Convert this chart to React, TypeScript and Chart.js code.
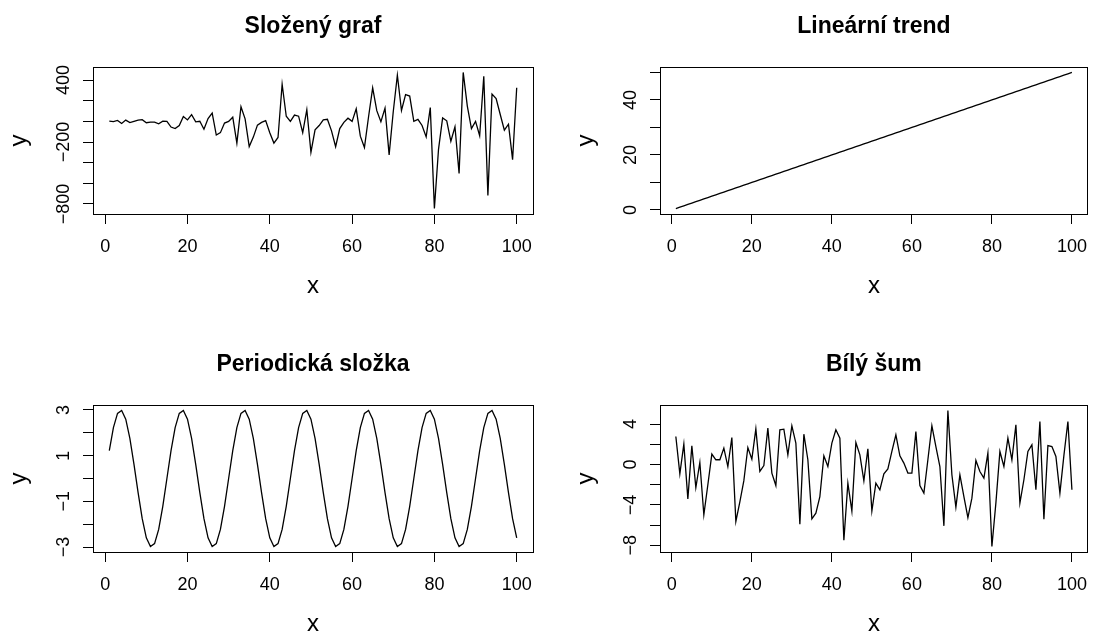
import React, { useEffect, useRef } from 'react';
import { Chart, registerables } from 'chart.js';

Chart.register(...registerables);

const FONT = '"Liberation Sans", Arial, Helvetica, sans-serif';

const xIndex = [
  1, 2, 3, 4, 5, 6, 7, 8, 9, 10, 11, 12, 13, 14, 15, 16, 17, 18, 19, 20,
  21, 22, 23, 24, 25, 26, 27, 28, 29, 30, 31, 32, 33, 34, 35, 36, 37, 38, 39, 40,
  41, 42, 43, 44, 45, 46, 47, 48, 49, 50, 51, 52, 53, 54, 55, 56, 57, 58, 59, 60,
  61, 62, 63, 64, 65, 66, 67, 68, 69, 70, 71, 72, 73, 74, 75, 76, 77, 78, 79, 80,
  81, 82, 83, 84, 85, 86, 87, 88, 89, 90, 91, 92, 93, 94, 95, 96, 97, 98, 99, 100,
];

const compositeValues = [
  1.7, -2.1, 8.6, -20.3, 12.0, -12.0, 0.4, 12.4, 15.8, -13.4,
  -7.7, -8.0, -23.5, 1.7, 0, -55.1, -70.1, -41.0, 47.6, 13.8,
  65.2, -4.7, 0.7, -76.0, 27.6, 80.6, -132.4, -109.3, -17.0, 0,
  40.1, -210.5, 141.1, 23.8, -244.8, -152.4, -36.4, -10.1, 6.9, -110.2,
  -210.2, -156.2, 359.1, 49.4, 0, 61.2, 50.3, -110.1, 113.2, -299.0,
  -82.6, -40.3, 15.1, 20.4, -92.2, -245.3, -69.9, -9.1, 30.6, 0,
  121.7, -143.8, -254.1, 44.8, 323.6, 103.4, -4.2, 128.0, -324.9, 92.8,
  446.4, 104.7, 258.0, 245.0, 0, 18.5, -40.0, -150.1, 133.0, -844.5,
  -270.9, 32.8, 5.2, -192.9, -51.9, -503.6, 473.6, 148.2, -70.0, 0,
  -138.8, 437.0, -717.0, 263.3, 219.8, 66.7, -85.1, -27.3, -371.1, 325.0,
];

const trendValues = [
  0.5, 1, 1.5, 2, 2.5, 3, 3.5, 4, 4.5, 5, 5.5, 6, 6.5, 7, 7.5, 8, 8.5, 9, 9.5, 10,
  10.5, 11, 11.5, 12, 12.5, 13, 13.5, 14, 14.5, 15, 15.5, 16, 16.5, 17, 17.5, 18, 18.5, 19, 19.5, 20,
  20.5, 21, 21.5, 22, 22.5, 23, 23.5, 24, 24.5, 25, 25.5, 26, 26.5, 27, 27.5, 28, 28.5, 29, 29.5, 30,
  30.5, 31, 31.5, 32, 32.5, 33, 33.5, 34, 34.5, 35, 35.5, 36, 36.5, 37, 37.5, 38, 38.5, 39, 39.5, 40,
  40.5, 41, 41.5, 42, 42.5, 43, 43.5, 44, 44.5, 45, 45.5, 46, 46.5, 47, 47.5, 48, 48.5, 49, 49.5, 50,
];

const periodicValues = [
  1.22, 2.23, 2.85, 2.98, 2.60, 1.76, 0.62, -0.62, -1.76, -2.60, -2.98, -2.85, -2.23, -1.22, 0,
  1.22, 2.23, 2.85, 2.98, 2.60, 1.76, 0.62, -0.62, -1.76, -2.60, -2.98, -2.85, -2.23, -1.22, 0,
  1.22, 2.23, 2.85, 2.98, 2.60, 1.76, 0.62, -0.62, -1.76, -2.60, -2.98, -2.85, -2.23, -1.22, 0,
  1.22, 2.23, 2.85, 2.98, 2.60, 1.76, 0.62, -0.62, -1.76, -2.60, -2.98, -2.85, -2.23, -1.22, 0,
  1.22, 2.23, 2.85, 2.98, 2.60, 1.76, 0.62, -0.62, -1.76, -2.60, -2.98, -2.85, -2.23, -1.22, 0,
  1.22, 2.23, 2.85, 2.98, 2.60, 1.76, 0.62, -0.62, -1.76, -2.60, -2.98, -2.85, -2.23, -1.22, 0,
  1.22, 2.23, 2.85, 2.98, 2.60, 1.76, 0.62, -0.62, -1.76, -2.60,
];

const noiseValues = [
  2.77, -0.92, 2.02, -3.40, 1.85, -2.28, 0.20, -4.98, -2.0, 1.03,
  0.47, 0.47, 1.62, -0.20, 2.67, -5.64, -3.7, -1.6, 1.68, 0.53,
  3.53, -0.69, -0.10, 3.60, -0.85, -2.08, 3.44, 3.50, 0.96, 3.83,
  2.12, -5.90, 3.00, 0.47, -5.38, -4.81, -3.17, 0.86, -0.20, 2.12,
  3.44, 2.61, -7.49, -1.84, -4.60, 2.18, 0.96, -1.61, 1.55, -4.60,
  -1.84, -2.50, -0.92, -0.43, 1.29, 2.94, 0.86, 0.14, -0.85, -0.85,
  3.27, -2.08, -2.83, 0.47, 3.83, 1.78, -0.20, -6.07, 5.35, -1.02,
  -4.22, -1.02, -3.17, -5.25, -3.33, 0.40, -0.69, -1.35, 1.13, -8.12,
  -3.8, 1.29, -0.20, 2.61, 0.47, 3.93, -3.82, -1.51, 1.29, 1.95,
  -2.50, 4.26, -5.41, 1.88, 1.78, 0.79, -2.83, 0.9, 4.26, -2.50,
];

const xTicks = [0, 20, 40, 60, 80, 100];
const compositeTicks = [-800, -600, -400, -200, 0, 200, 400];
const compositeTickLabels = [-800, -200, 400];
const trendTicks = [0, 10, 20, 30, 40, 50];
const trendTickLabels = [0, 20, 40];
const periodicTicks = [-3, -2, -1, 0, 1, 2, 3];
const periodicTickLabels = [-3, -1, 1, 3];
const noiseTicks = [-8, -6, -4, -2, 0, 2, 4];
const noiseTickLabels = [-8, -4, 0, 4];

const titles = ['Složený graf', 'Lineární trend', 'Periodická složka', 'Bílý šum'];
const xAxisTitle = 'x';
const yAxisTitle = 'y';

type PanelSpec = {
  canvas: { left: number; top: number; width: number; height: number };
  box: { l: number; t: number; r: number; b: number };
  yMin: number;
  yMax: number;
  values: number[];
  yTicks: number[];
  yTickLabels: number[];
  title: string;
};

const panels: PanelSpec[] = [
  {
    canvas: { left: 0, top: 0, width: 549, height: 338 },
    box: { l: 93, t: 67, r: 533, b: 214 },
    yMin: -897.2, yMax: 526.3,
    values: compositeValues, yTicks: compositeTicks, yTickLabels: compositeTickLabels, title: titles[0],
  },
  {
    canvas: { left: 549, top: 0, width: 550, height: 338 },
    box: { l: 660, t: 67, r: 1097, b: 214 },
    yMin: -1.48, yMax: 51.98,
    values: trendValues, yTicks: trendTicks, yTickLabels: trendTickLabels, title: titles[1],
  },
  {
    canvas: { left: 0, top: 338, width: 549, height: 294 },
    box: { l: 93, t: 405, r: 533, b: 552 },
    yMin: -3.218, yMax: 3.218,
    values: periodicValues, yTicks: periodicTicks, yTickLabels: periodicTickLabels, title: titles[2],
  },
  {
    canvas: { left: 549, top: 338, width: 550, height: 294 },
    box: { l: 660, t: 405, r: 1097, b: 552 },
    yMin: -8.659, yMax: 5.889,
    values: noiseValues, yTicks: noiseTicks, yTickLabels: noiseTickLabels, title: titles[3],
  },
];

const fmt = (v: number) => (v < 0 ? '\u2212' + String(Math.abs(v)) : String(v));
const align = (p: number) => Math.round(p - 0.5) + 0.5;

function Panel({ spec }: { spec: PanelSpec }) {
  const ref = useRef<HTMLCanvasElement | null>(null);
  useEffect(() => {
    if (!ref.current) return;
    const c = spec.canvas;
    const box = spec.box;
    const decor = {
      id: 'rDecor',
      afterDraw(chart: any) {
        const ctx = chart.ctx as CanvasRenderingContext2D;
        const { left, top, right, bottom } = chart.chartArea;
        ctx.save();
        ctx.strokeStyle = '#000';
        ctx.lineWidth = 1;
        const l = align(left), t = align(top), r = align(right), b = align(bottom);
        ctx.strokeRect(l, t, r - l, b - t);
        ctx.fillStyle = '#000';
        // title
        ctx.font = `bold 23px ${FONT}`;
        ctx.textAlign = 'center';
        ctx.textBaseline = 'alphabetic';
        ctx.fillText(spec.title, (left + right) / 2, top - 33.7);
        // x axis title
        ctx.font = `24px ${FONT}`;
        ctx.fillText(xAxisTitle, (left + right) / 2, bottom + 78.5);
        // y axis title
        ctx.save();
        ctx.translate(left - 67, (top + bottom) / 2);
        ctx.rotate(-Math.PI / 2);
        ctx.fillText(yAxisTitle, 0, 0);
        ctx.restore();
        // y tick labels (rotated, as in R)
        ctx.font = `18px ${FONT}`;
        const ys = chart.scales.y;
        for (const v of spec.yTickLabels) {
          const py = ys.getPixelForValue(v);
          ctx.save();
          ctx.translate(left - 24.5, py);
          ctx.rotate(-Math.PI / 2);
          ctx.fillText(fmt(v), 0, 0);
          ctx.restore();
        }
        ctx.restore();
      },
    };
    const chart = new Chart(ref.current, {
      type: 'line',
      data: {
        datasets: [
          {
            data: xIndex.map((x, i) => ({ x, y: spec.values[i] })),
            borderColor: '#000',
            borderWidth: 1.3,
            pointRadius: 0,
            fill: false,
            tension: 0,
          },
        ],
      },
      options: {
        animation: false,
        responsive: false,
        maintainAspectRatio: false,
        events: [],
        layout: {
          padding: {
            left: 0,
            top: box.t - c.top,
            right: c.left + c.width - box.r,
            bottom: 0,
          },
        },
        plugins: {
          legend: { display: false },
          title: { display: false },
          tooltip: { enabled: false },
        },
        scales: {
          x: {
            type: 'linear',
            min: -2.96,
            max: 103.96,
            afterFit: (s: any) => {
              s.height = c.top + c.height - box.b;
            },
            afterBuildTicks: (s: any) => {
              s.ticks = xTicks.map((v) => ({ value: v }));
            },
            grid: { drawOnChartArea: false, drawTicks: true, tickLength: 10, color: '#000', lineWidth: 1 },
            border: { display: true, color: '#000', width: 1 },
            ticks: {
              color: '#000',
              font: { family: FONT, size: 18 },
              padding: 12,
              maxRotation: 0,
              minRotation: 0,
              autoSkip: false,
              callback: (v: any) => String(v),
            },
          },
          y: {
            type: 'linear',
            min: spec.yMin,
            max: spec.yMax,
            afterFit: (s: any) => {
              s.width = box.l - c.left;
            },
            afterBuildTicks: (s: any) => {
              s.ticks = spec.yTicks.map((v) => ({ value: v }));
            },
            grid: { drawOnChartArea: false, drawTicks: true, tickLength: 10, color: '#000', lineWidth: 1 },
            border: { display: true, color: '#000', width: 1 },
            ticks: { display: false },
          },
        },
      },
      plugins: [decor],
    } as any);
    return () => chart.destroy();
  }, [spec]);
  const c = spec.canvas;
  return (
    <canvas
      ref={ref}
      width={c.width}
      height={c.height}
      style={{ position: 'absolute', left: c.left, top: c.top, width: c.width, height: c.height }}
    />
  );
}

export default function App() {
  return (
    <div style={{ position: 'absolute', left: 0, top: 0, width: 1099, height: 632, background: '#fff', overflow: 'hidden' }}>
      {panels.map((p, i) => (
        <Panel key={i} spec={p} />
      ))}
    </div>
  );
}
